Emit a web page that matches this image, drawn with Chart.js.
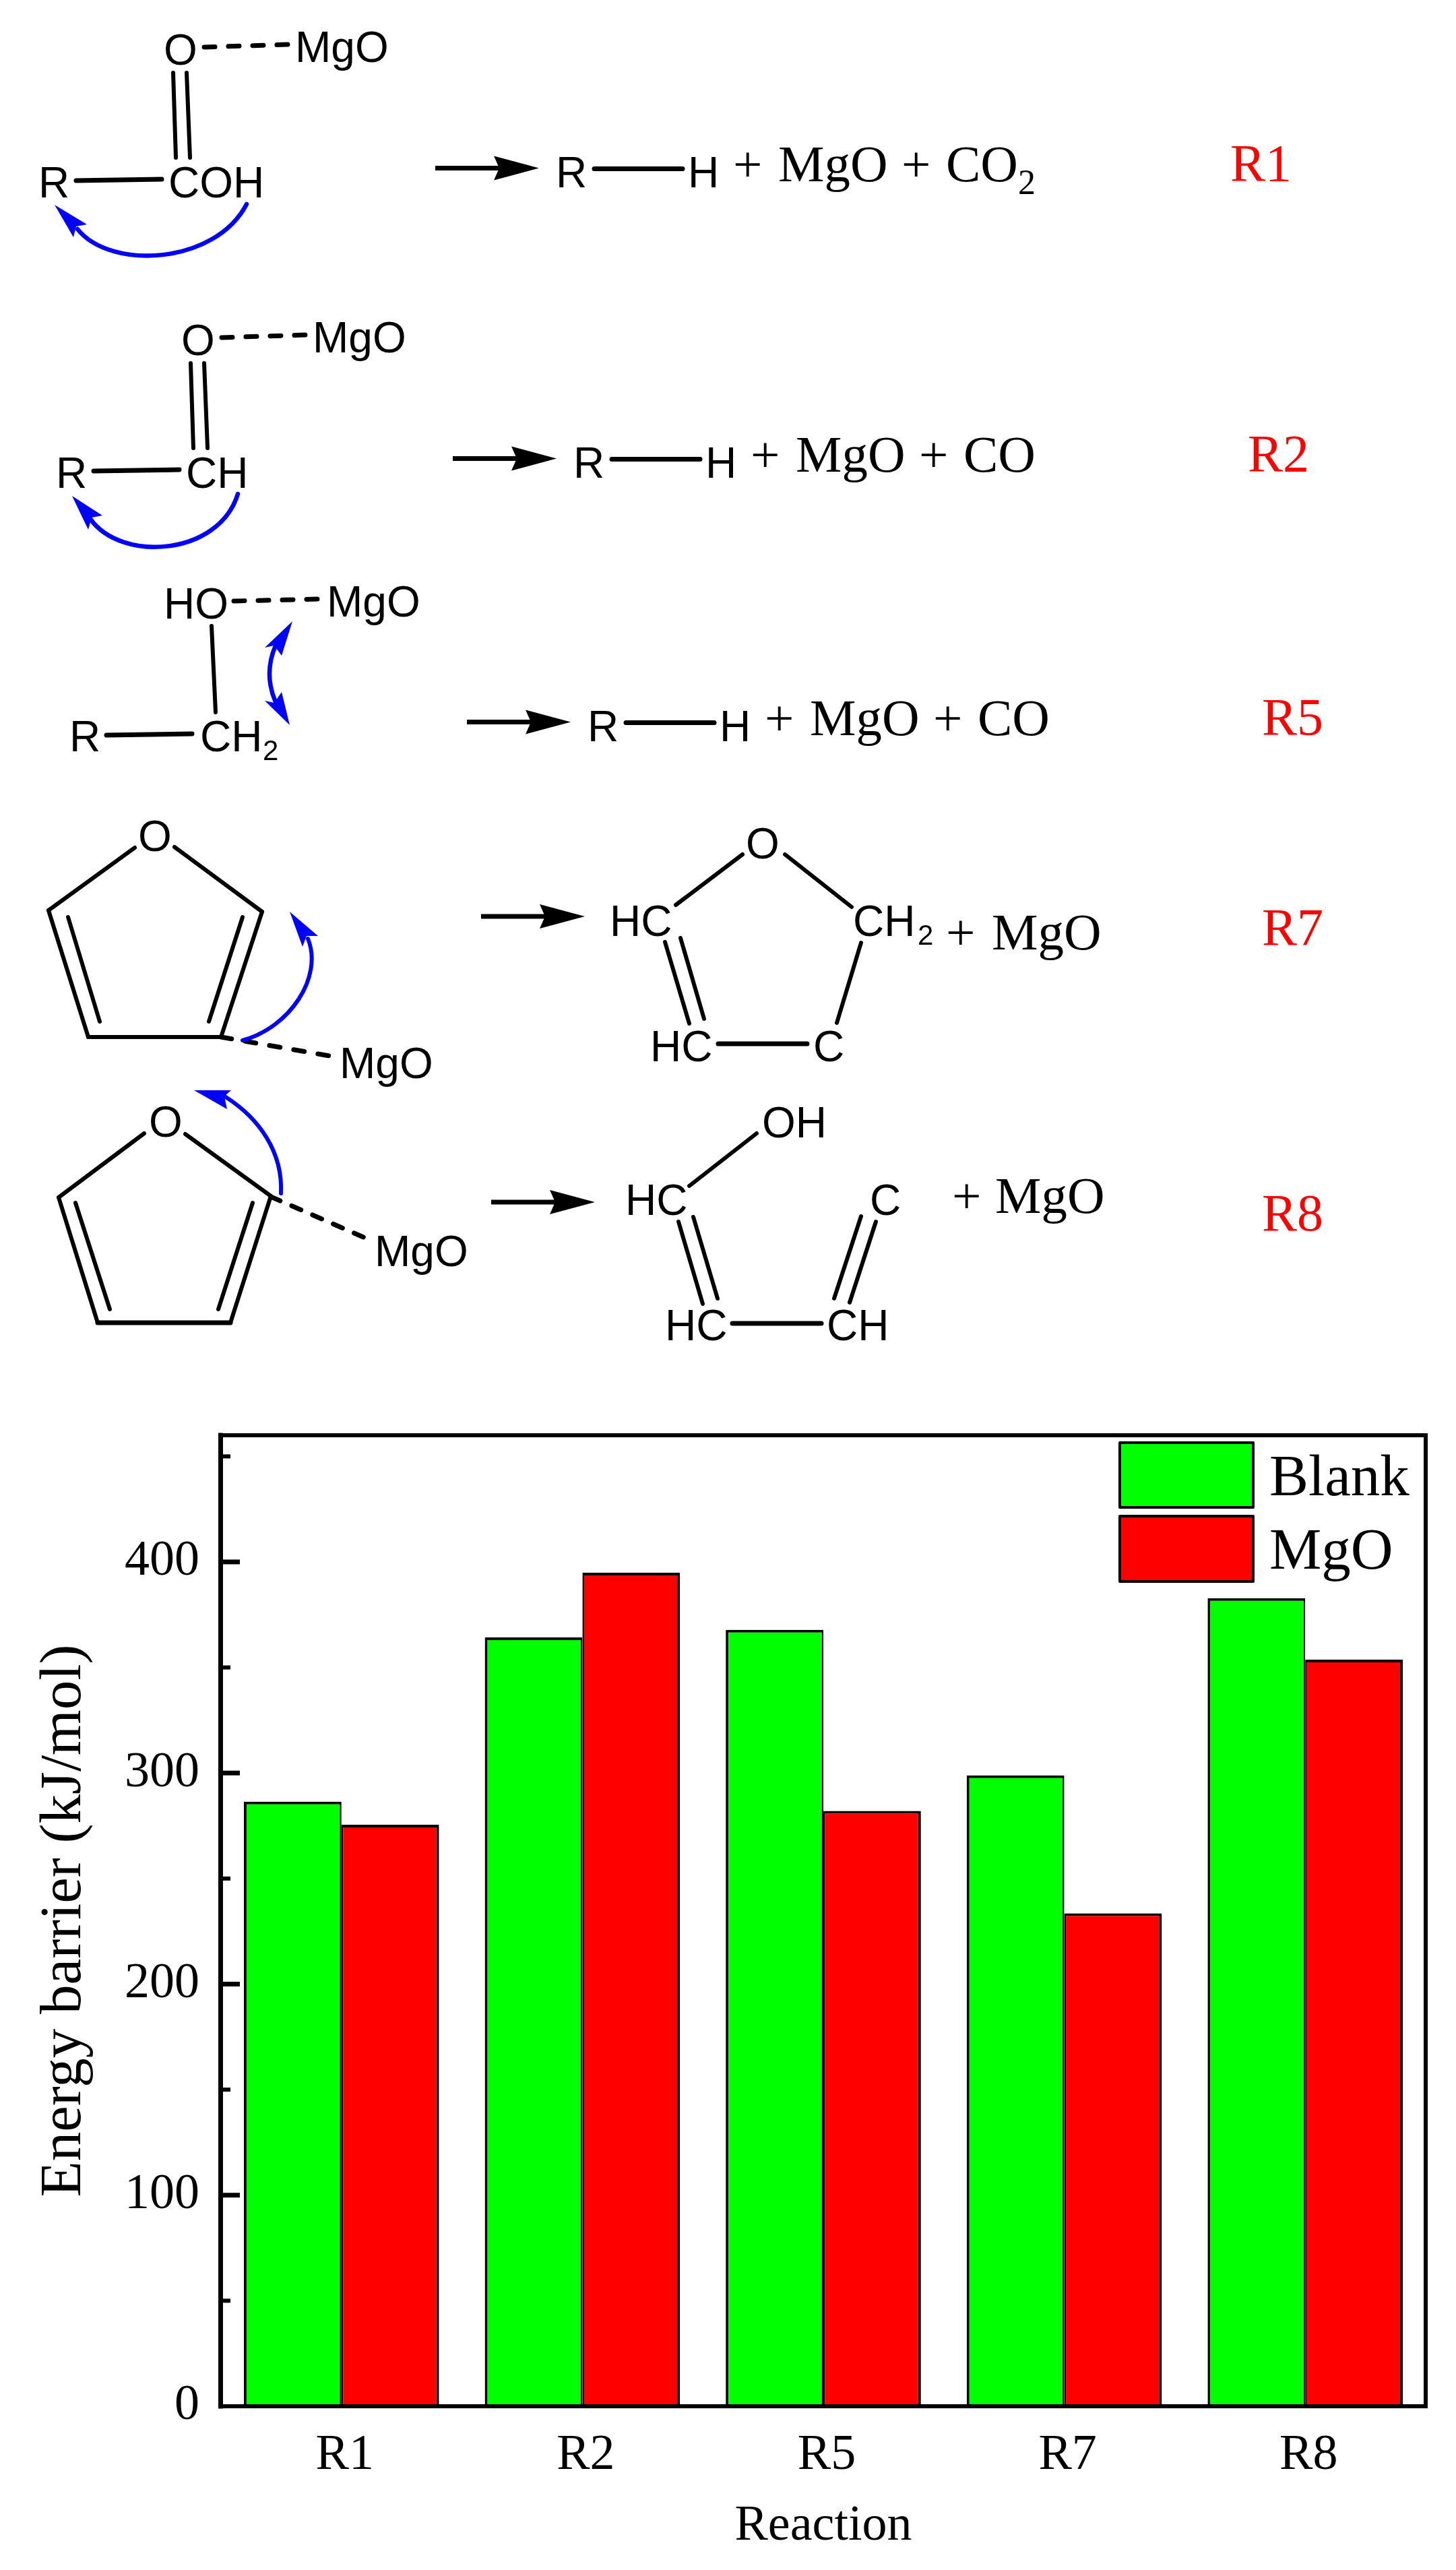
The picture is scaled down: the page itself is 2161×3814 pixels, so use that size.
<!DOCTYPE html>
<html>
<head>
<meta charset="utf-8">
<style>
html,body{margin:0;padding:0;background:#fff;}
#wrap{position:relative;width:2161px;height:3814px;overflow:hidden;}
#c{position:absolute;left:0;top:0;}
#scheme{position:absolute;left:0;top:0;}
</style>
<script src="https://cdn.jsdelivr.net/npm/chart.js@4"></script>
</head>
<body>
<div id="wrap">
<canvas id="c" width="2161" height="3814" style="width:2161px;height:3814px"></canvas>
<svg id="scheme" xmlns="http://www.w3.org/2000/svg" width="2161" height="2060" viewBox="0 0 2161 2060"></svg>
</div>
<script>
const categories = ['R1','R2','R5','R7','R8'];
const blankValues = [286.4, 364.2, 367.8, 298.9, 382.8];
const mgoValues = [275.5, 394.9, 282, 233.5, 353.7];
const seriesNames = ['Blank','MgO'];
const seriesColors = ['#00ff00','#ff0000'];
const yMajorStep = 100;
const yMinorStep = 50;
const yMax = 460;
const yTitle = 'Energy barrier (kJ/mol)';
const xTitle = 'Reaction';

const SERIF = '"Liberation Serif","Times New Roman",serif';
const SANS = '"Liberation Sans",Arial,sans-serif';

/* ---------- reaction scheme (SVG) ---------- */
const svg = document.getElementById('scheme');
const NS = 'http://www.w3.org/2000/svg';
function el(n,a,txt){const e=document.createElementNS(NS,n);for(const k in a)e.setAttribute(k,a[k]);if(txt)e.textContent=txt;svg.appendChild(e);return e;}
function sans(x,y,s,size){el('text',{x,y,'font-family':SANS,'font-size':size||64,fill:'#000'},s);}
function serif(x,y,s,size,col){el('text',{x,y,'font-family':SERIF,'font-size':size||77,fill:col||'#000'},s);}
function bond(x1,y1,x2,y2,w){el('line',{x1,y1,x2,y2,stroke:'#000','stroke-width':w||6,'stroke-linecap':'round'});}
function dash(x1,y1,x2,y2,d){el('line',{x1,y1,x2,y2,stroke:'#000','stroke-width':7,'stroke-linecap':'round','stroke-dasharray':d||'16 20'});}
function arrow(x,y){
  el('line',{x1:x,y1:y,x2:x+100,y2:y,stroke:'#000','stroke-width':7});
  el('polygon',{points:`${x+154},${y} ${x+87},${y-18} ${x+95},${y} ${x+87},${y+18}`,fill:'#000'});
}
function curve(d,w){el('path',{d,fill:'none',stroke:'#0000ff','stroke-width':w||6.5,'stroke-linecap':'round'});}
function head(p){el('polygon',{points:p,fill:'#0000ff'});}
function products(dx,dy,co2){
  arrow(646+dx,249.5+dy);
  sans(825+dx,278+dy,'R');
  bond(882+dx,250.5+dy,1013+dx,250.5+dy,7);
  sans(1021+dx,278+dy,'H');
  serif(1088+dx,269+dy,'+');
  serif(1155+dx,269+dy,'MgO');
  serif(1338+dx,269+dy,'+');
  serif(1404+dx,269+dy,'CO');
  if(co2) serif(1511+dx,288+dy,'2',52);
}

// R1
sans(243,96,'O'); dash(303,70,429,66); sans(438,92,'MgO');
bond(257,108,261,234); bond(277,108,282,234);
sans(57,293,'R'); bond(113,268,240,266,7); sans(250,293,'COH');
curve('M366,303 C320,392 165,402 115,340');
head('81,304 129,333 113,336 109,352');
products(0,0,true);
serif(1826,268,'R1',78,'#ff0000');

// R2
sans(269,527,'O'); dash(329,501,455,497); sans(464,523,'MgO');
bond(283,539,287,665); bond(303,539,308,665);
sans(83,724,'R'); bond(139,699,266,697,7); sans(276,724,'CH');
curve('M353,733 C325,825 180,835 134,770');
head('107,736 152,765 136,768 131,786');
products(26,431,false);
serif(1852,699,'R2',78,'#ff0000');

// R5
sans(243,918,'HO'); dash(347,892,475,889); sans(485,915,'MgO');
bond(314,929,320,1057);
sans(103,1115,'R'); bond(158,1091,285,1089,7); sans(297,1115,'CH');
sans(390,1128,'2',42);
curve('M409,958 Q391,1000 409,1042');
head('434,922 418,973 407,958 393,961');
head('430,1076 418,1027 407,1043 393,1040');
products(47,822,false);
serif(1873,1090,'R5',78,'#ff0000');

// R7 reactant
sans(205,1263,'O');
bond(200,1258,72,1351); bond(259,1257,389,1353);
bond(72,1351,131,1539); bond(389,1353,328,1539); bond(131,1539,328,1539);
bond(101,1361,148,1516); bond(360,1361,310,1516);
dash(328,1539,495,1568,'16 20.5'); sans(504,1600,'MgO');
curve('M360,1544 C430,1525 480,1450 457,1393',6);
head('430,1353 472,1389 455,1389 449,1405');
// R7 product
arrow(714,1360);
sans(1107,1274,'O');
bond(1102,1268,1003,1343); bond(1165,1268,1264,1346);
sans(905,1389,'HC'); sans(1266,1389,'CH'); sans(1362,1402,'2',42);
serif(1404,1409,'+'); serif(1472,1409,'MgO');
bond(987,1398,1023,1519); bond(1010,1392,1045,1512);
bond(1278,1399,1242,1518);
sans(965,1575,'HC'); sans(1207,1575,'C'); bond(1066,1549,1198,1549,7);
serif(1873,1402,'R7',78,'#ff0000');

// R8 reactant
sans(221,1687,'O');
bond(275,1683,402,1775); bond(214,1682,87,1777);
bond(87,1777,145,1963); bond(402,1775,342,1963); bond(145,1963,342,1963,7);
bond(112,1785,163,1943); bond(375,1785,324,1943);
dash(402,1776,544,1838,'15 18.7'); sans(556,1879,'MgO');
curve('M417,1771 C420,1710 385,1660 335,1628',6);
head('288,1618 343,1618 333,1627 337,1646');
// R8 product
arrow(729,1784);
sans(1131,1688,'OH');
bond(1123,1682,1023,1760);
sans(928,1803,'HC'); sans(1291,1803,'C');
serif(1413,1800,'+'); serif(1477,1800,'MgO');
bond(1007,1813,1043,1935); bond(1029,1806,1065,1927);
bond(1278,1805,1238,1927); bond(1300,1813,1261,1933);
sans(987,1989,'HC'); sans(1227,1989,'CH'); bond(1087,1964,1219,1964,7);
serif(1873,1826,'R8',78,'#ff0000');

/* ---------- chart ---------- */
const PLOT = {left:328, right:2116, top:2130, bottom:3571};

const framePlugin = {
  id:'frame',
  afterDatasetsDraw(chart){
    const {ctx, chartArea:a, scales:{y}} = chart;
    ctx.save();
    ctx.strokeStyle='#000';
    ctx.lineCap='square';
    const seg=(x1,y1,x2,y2,w)=>{ctx.lineWidth=w;ctx.beginPath();ctx.moveTo(x1,y1);ctx.lineTo(x2,y2);ctx.stroke();};
    seg(a.left,a.top,a.right,a.top,6);
    seg(a.right,a.top,a.right,a.bottom,6);
    seg(a.left,a.bottom,a.right,a.bottom,6);
    seg(a.left-0.5,a.top,a.left-0.5,a.bottom,7);
    ctx.lineCap='butt';
    for(let v=yMinorStep;v<=yMax;v+=yMinorStep){
      const py=y.getPixelForValue(v);
      const major=v%yMajorStep===0;
      seg(a.left,py,a.left+(major?28:14),py,major?7:6);
    }
    ctx.restore();
  },
  afterDraw(chart){
    const {ctx}=chart;
    const boxY=[2141,2250];
    const boxH=[96,97];
    const baseY=[2219,2328];
    ctx.save();
    ctx.lineJoin='round';
    chart.data.datasets.forEach((ds,i)=>{
      ctx.fillStyle=ds.backgroundColor;
      ctx.fillRect(1662,boxY[i],198,boxH[i]);
      ctx.strokeStyle='#000';ctx.lineWidth=4;
      ctx.strokeRect(1662,boxY[i],198,boxH[i]);
      ctx.fillStyle='#000';
      ctx.font='87px '+SERIF;
      ctx.textAlign='left';ctx.textBaseline='alphabetic';
      ctx.fillText(ds.label,1884,baseY[i]);
    });
    ctx.restore();
  }
};

const barBorder = [
  {top:4,left:4,right:2.5,bottom:0},
  {top:4,left:2.5,right:4,bottom:0}
];

new Chart(document.getElementById('c'),{
  type:'bar',
  data:{
    labels:categories,
    datasets:[
      {label:seriesNames[0],data:blankValues,backgroundColor:seriesColors[0],borderColor:'#000',borderWidth:barBorder[0],borderSkipped:false},
      {label:seriesNames[1],data:mgoValues,backgroundColor:seriesColors[1],borderColor:'#000',borderWidth:barBorder[1],borderSkipped:false}
    ]
  },
  options:{
    responsive:false,
    animation:false,
    maintainAspectRatio:false,
    devicePixelRatio:1,
    layout:{padding:{left:0,top:PLOT.top,right:2161-PLOT.right,bottom:0}},
    categoryPercentage:0.81,
    barPercentage:1,
    plugins:{legend:{display:false},tooltip:{enabled:false},title:{display:false}},
    scales:{
      x:{
        type:'category',
        grid:{display:false,drawTicks:false},
        border:{display:false},
        ticks:{color:'#000',font:{family:SERIF,size:74},padding:29,labelOffset:5,maxRotation:0,autoSkip:false},
        title:{display:true,text:xTitle,color:'#000',font:{family:SERIF,size:74},padding:{top:0,bottom:20}},
        afterFit(s){s.height=3814-PLOT.bottom;}
      },
      y:{
        type:'linear',min:0,max:yMax,
        grid:{display:false,drawTicks:false},
        border:{display:false},
        ticks:{stepSize:yMajorStep,color:'#000',font:{family:SERIF,size:74},padding:32,
               callback:v=>v%yMajorStep===0?String(v):''},
        title:{display:true,text:yTitle,color:'#000',font:{family:SERIF,size:87},padding:{top:44,bottom:0}},
        afterFit(s){s.width=PLOT.left;}
      }
    }
  },
  plugins:[framePlugin]
});
</script>
</body>
</html>
